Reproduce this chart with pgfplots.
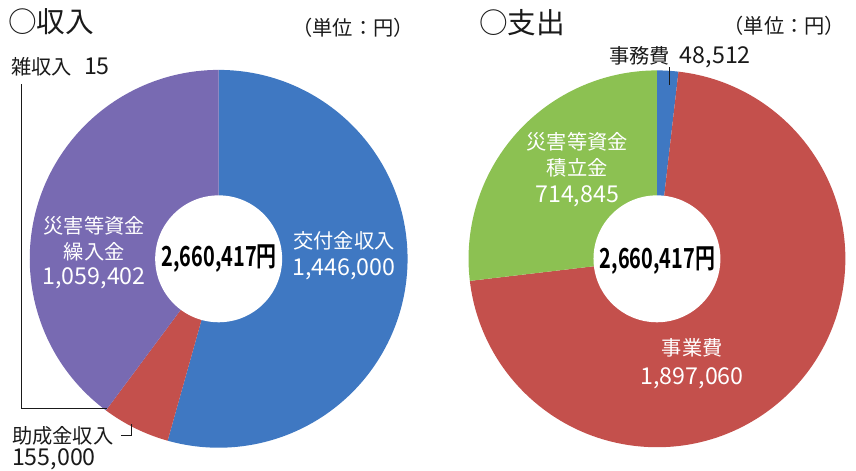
\documentclass[border=0pt]{standalone}
\usepackage{pgfplots}
\pgfplotsset{compat=1.18}
\usepackage{pgfplotstable}
\usepackage{fontspec}
\setmainfont{Noto Sans CJK JP}[BoldFont={Noto Sans CJK JP Bold}]
\definecolor{cblue}{HTML}{3F78C2}
\definecolor{cred}{HTML}{C4504C}
\definecolor{cpurple}{HTML}{786AB2}
\definecolor{cgreen}{HTML}{8CC152}
\definecolor{ctext}{HTML}{1A1A1A}
\newcommand\num[1]{{\fontsize{23.5}{24}\selectfont #1}}

\pgfplotstableread{
key value
kofu 1446000
josei 155000
kurii 1059402
zatsu 15
}\income
\pgfplotstableread{
key value
jimu 48512
jigyo 1897060
tsumi 714845
}\expense

\newcommand\sector[6]{%
  \fill[#6] (axis cs:#1,#2) -- ++(#4:#3) arc[start angle=#4, end angle=#5, radius=#3] -- cycle;}

\begin{document}
\begin{tikzpicture}
% income angles
\pgfplotstablegetelem{0}{value}\of\income\edef\iA{\pgfplotsretval}
\pgfplotstablegetelem{1}{value}\of\income\edef\iB{\pgfplotsretval}
\pgfplotstablegetelem{2}{value}\of\income\edef\iC{\pgfplotsretval}
\pgfplotstablegetelem{3}{value}\of\income\edef\iD{\pgfplotsretval}
\edef\itot{\fpeval{\iA+\iB+\iC+\iD}}
\edef\ieA{\fpeval{round(90-360*\iA/\itot,3)}}
\edef\ieB{\fpeval{round(\ieA-360*\iB/\itot,3)}}
\edef\ieC{\fpeval{round(\ieB-360*\iC/\itot,3)}}
\edef\ieD{\fpeval{round(\ieC-360*\iD/\itot,3)}}
% expense angles
\pgfplotstablegetelem{0}{value}\of\expense\edef\eA{\pgfplotsretval}
\pgfplotstablegetelem{1}{value}\of\expense\edef\eB{\pgfplotsretval}
\pgfplotstablegetelem{2}{value}\of\expense\edef\eC{\pgfplotsretval}
\edef\etot{\fpeval{\eA+\eB+\eC}}
\edef\eeA{\fpeval{round(90-360*\eA/\etot,3)}}
\edef\eeB{\fpeval{round(\eeA-360*\eB/\etot,3)}}
\edef\eeC{\fpeval{round(\eeB-360*\eC/\etot,3)}}
\begin{axis}[
  at={(0,0)}, anchor=south west,
  width=856bp, height=474bp, scale only axis,
  xmin=0, xmax=856, ymin=0, ymax=474, y dir=reverse,
  hide axis, clip=false,
]
% ---- income donut
\sector{220.5}{261}{190.5bp}{90}{\ieA}{cblue}
\sector{220.5}{261}{190.5bp}{\ieA}{\ieB}{cred}
\sector{220.5}{261}{190.5bp}{\ieB}{\ieC}{cpurple}
\sector{220.5}{261}{190.5bp}{\ieC}{\ieD}{cpurple}
\fill[white] (axis cs:220.5,261) circle[radius=64bp];
% ---- expense donut
\sector{662.5}{261}{190bp}{90}{\eeA}{cblue}
\sector{662.5}{261}{190bp}{\eeA}{\eeB}{cred}
\sector{662.5}{261}{190bp}{\eeB}{\eeC}{cgreen}
\fill[white] (axis cs:662.5,261) circle[radius=64bp];
% ---- titles
\node[anchor=west, inner sep=0pt, text=ctext, font=\fontsize{29}{30}\selectfont] at (axis cs:8,22) {○収入};
\node[inner sep=0pt, text=ctext, font=\fontsize{20.5}{21}\selectfont] at (axis cs:356,28) {（単位：円）};
\node[anchor=west, inner sep=0pt, text=ctext, font=\fontsize{29}{30}\selectfont] at (axis cs:483,23) {○支出};
\node[inner sep=0pt, text=ctext, font=\fontsize{20.5}{21}\selectfont] at (axis cs:791,26) {（単位：円）};
% ---- centre totals
\node[inner sep=0pt, text=black] at (axis cs:221,261) {\scalebox{0.72}[1]{\bfseries\fontsize{28}{30}\selectfont 2,660,417円}};
\node[inner sep=0pt, text=black] at (axis cs:663,263) {\scalebox{0.72}[1]{\bfseries\fontsize{28}{30}\selectfont 2,660,417円}};
% ---- inner labels
\node[align=center, inner sep=0pt, text=white, font=\fontsize{20.5}{27}\selectfont] at (axis cs:347,258) {交付金収入\\\num{1,446,000}};
\node[align=center, inner sep=0pt, text=white, font=\fontsize{20.5}{26}\selectfont] at (axis cs:95,255) {災害等資金\\繰入金\\\num{1,059,402}};
\node[align=center, inner sep=0pt, text=white, font=\fontsize{20.5}{27}\selectfont] at (axis cs:582,171) {災害等資金\\積立金\\\num{714,845}};
\node[align=center, inner sep=0pt, text=white, font=\fontsize{20.5}{29}\selectfont] at (axis cs:698,367) {事業費\\\num{1,897,060}};
% ---- outside labels
\node[anchor=west, inner sep=0pt, text=ctext, font=\fontsize{20.5}{22}\selectfont] at (axis cs:11,67) {雑収入\hspace{0.6em}\num{15}};
\node[anchor=west, inner sep=0pt, text=ctext, font=\fontsize{20.5}{22}\selectfont] at (axis cs:12,440) {助成金収入};
\node[anchor=west, inner sep=0pt, text=ctext, font=\fontsize{20.5}{22}\selectfont] at (axis cs:12,463) {\num{155,000}};
\node[anchor=west, inner sep=0pt, text=ctext, font=\fontsize{20.5}{22}\selectfont] at (axis cs:614,58) {事務費\hspace{0.5em}\num{48,512}};
% ---- leader lines
\draw[ctext, line width=0.8bp] (axis cs:22,85) -- (axis cs:22,412) -- (axis cs:108,412);
\draw[ctext, line width=0.8bp] (axis cs:122,439) -- (axis cs:133,439) -- (axis cs:133,428);
\draw[ctext, line width=0.8bp] (axis cs:675,68) -- (axis cs:675,86);
\end{axis}
\useasboundingbox (0,0) rectangle (856bp,474bp);
\end{tikzpicture}
\end{document}
